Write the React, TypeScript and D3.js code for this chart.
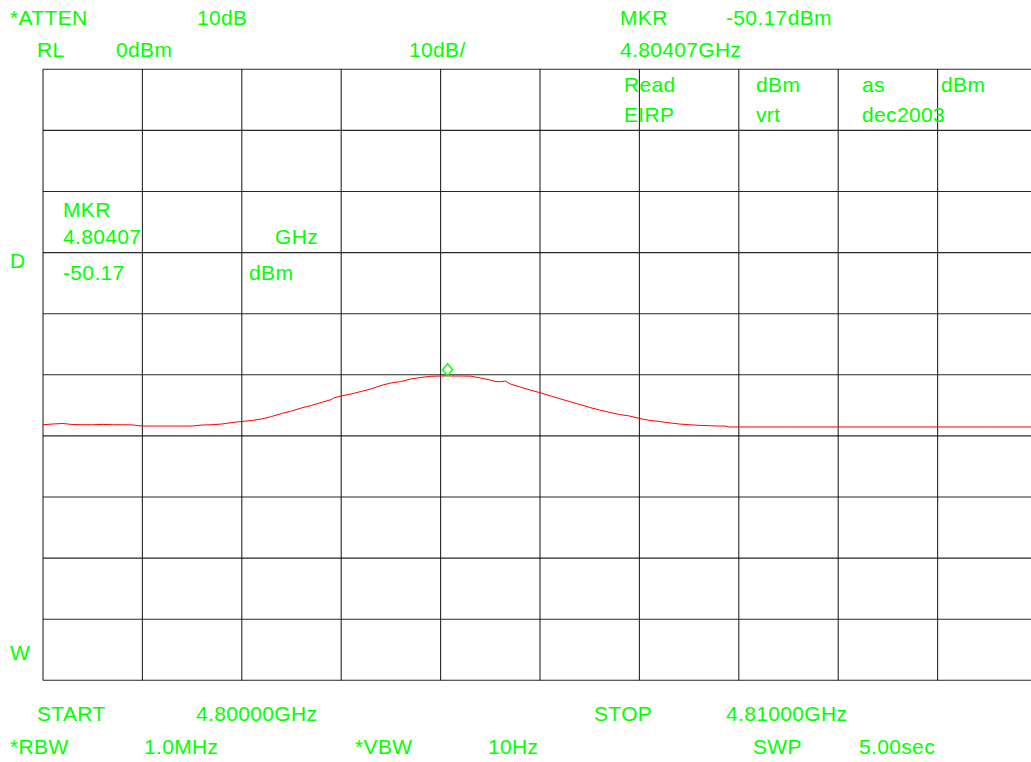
import React from "react";
import * as d3 from "d3";

// Sweep settings
const startGHz = 4.8;
const stopGHz = 4.81;
const refLevel = 0; // dBm
const dbPerDiv = 10;
const markerGHz = 4.80407;
const markerDbm = -50.17;

const traceMHz = [
  4800.0, 4800.1, 4800.2, 4800.3, 4800.4, 4800.5, 4800.6, 4800.7, 4800.8, 4800.9,
  4800.95, 4801.0, 4801.1, 4801.2, 4801.3, 4801.4, 4801.5, 4801.6, 4801.7, 4801.8, 4801.9,
  4802.0, 4802.1, 4802.2, 4802.3, 4802.4, 4802.5, 4802.6, 4802.7, 4802.8, 4802.9,
  4802.93, 4803.0, 4803.1, 4803.2, 4803.3, 4803.4, 4803.5, 4803.6, 4803.7, 4803.8, 4803.9,
  4804.0, 4804.07, 4804.1, 4804.2, 4804.3, 4804.4, 4804.5, 4804.55, 4804.6, 4804.65, 4804.7, 4804.8, 4804.9,
  4805.0, 4805.1, 4805.2, 4805.3, 4805.4, 4805.5, 4805.6, 4805.7, 4805.8, 4805.9,
  4806.0, 4806.1, 4806.2, 4806.3, 4806.4, 4806.5, 4806.6, 4806.7, 4806.8, 4806.87, 4806.9,
  4807.5, 4808.0, 4808.5, 4809.0, 4809.5, 4810.0,
];
const traceDbm = [
  -58.17, -58.05, -57.97, -58.14, -58.17, -58.17, -58.12, -58.17, -58.17, -58.2,
  -58.3, -58.38, -58.38, -58.38, -58.38, -58.38, -58.38, -58.22, -58.17, -58.05, -57.81,
  -57.64, -57.48, -57.23, -56.83, -56.33, -55.93, -55.43, -55.02, -54.53, -54.05,
  -53.75, -53.47, -53.14, -52.73, -52.32, -51.75, -51.34, -51.1, -50.69, -50.44, -50.25,
  -50.2, -50.17, -50.2, -50.2, -50.22, -50.52, -50.85, -51.1, -51.13, -51.02, -51.5, -52.0, -52.49,
  -52.93, -53.42, -53.91, -54.4, -54.86, -55.35, -55.76, -56.14, -56.5, -56.74,
  -57.15, -57.45, -57.64, -57.86, -58.05, -58.17, -58.27, -58.33, -58.38, -58.4, -58.54,
  -58.54, -58.54, -58.54, -58.54, -58.54, -58.54,
];

// Annotation texts
const headerTexts = [
  { t: "*ATTEN", x: 10, y: 25 },
  { t: "10dB", x: 197, y: 25 },
  { t: "MKR", x: 620, y: 25 },
  { t: "-50.17dBm", x: 726, y: 25 },
  { t: "RL", x: 37, y: 57 },
  { t: "0dBm", x: 116, y: 57 },
  { t: "10dB/", x: 409, y: 57 },
  { t: "4.80407GHz", x: 620, y: 57 },
];
const titleTexts = [
  { t: "Read", x: 624, y: 92 },
  { t: "dBm", x: 756, y: 92 },
  { t: "as", x: 862, y: 92 },
  { t: "dBm", x: 941, y: 92 },
  { t: "EIRP", x: 624, y: 122 },
  { t: "vrt", x: 756, y: 122 },
  { t: "dec2003", x: 862, y: 122 },
  { t: "MKR", x: 63, y: 217 },
  { t: "4.80407", x: 63, y: 244 },
  { t: "GHz", x: 275, y: 244 },
  { t: "-50.17", x: 63, y: 280 },
  { t: "dBm", x: 249, y: 280 },
  { t: "D", x: 10, y: 268 },
  { t: "W", x: 10, y: 660 },
];
const footerTexts = [
  { t: "START", x: 37, y: 721 },
  { t: "4.80000GHz", x: 196, y: 721 },
  { t: "STOP", x: 594, y: 721 },
  { t: "4.81000GHz", x: 726, y: 721 },
  { t: "*RBW", x: 10, y: 754 },
  { t: "1.0MHz", x: 144, y: 754 },
  { t: "*VBW", x: 355, y: 754 },
  { t: "10Hz", x: 488, y: 754 },
  { t: "SWP", x: 753, y: 754 },
  { t: "5.00sec", x: 859, y: 754 },
];

const W = 1031;
const H = 762;
const plot = { left: 43, right: 1037, top: 69.3, bottom: 680.3 };
const GREEN = "#00ff00";

export default function App() {
  const x = d3.scaleLinear().domain([startGHz, stopGHz]).range([plot.left, plot.right]);
  const y = d3
    .scaleLinear()
    .domain([refLevel, refLevel - dbPerDiv * 10])
    .range([plot.top, plot.bottom]);

  const xTicks = d3.range(0, 11).map((i) => startGHz + (i * (stopGHz - startGHz)) / 10);
  const yTicks = d3.range(0, 11).map((i) => refLevel - i * dbPerDiv);

  const line = d3
    .line<number>()
    .x((_, i) => x(traceMHz[i] / 1000))
    .y((d) => y(d));

  const mx = x(markerGHz);
  const my = y(markerDbm);

  const allTexts = [...headerTexts, ...titleTexts, ...footerTexts];

  return (
    <svg
      width={W}
      height={H}
      style={{ position: "absolute", left: 0, top: 0, background: "#fff" }}
    >
      <rect x={0} y={0} width={W} height={H} fill="#fff" />
      <g stroke="#000" strokeWidth={1.1} strokeOpacity={0.85}>
        {xTicks.map((t, i) => (
          <line key={"vx" + i} x1={x(t)} x2={x(t)} y1={plot.top} y2={plot.bottom} />
        ))}
        {yTicks.map((t, i) => (
          <line key={"hy" + i} x1={plot.left} x2={plot.right} y1={y(t)} y2={y(t)} />
        ))}
      </g>
      <path d={line(traceDbm) || ""} fill="none" stroke="#ff0000" strokeWidth={1} />
      <path
        d={`M${mx},${my - 12} L${mx + 5},${my - 6} L${mx},${my} L${mx - 5},${my - 6} Z`}
        fill="none"
        stroke={GREEN}
        strokeWidth={1.5}
      />
      <g
        fill={GREEN}
        fontFamily="'Liberation Sans', Arial, sans-serif"
        fontSize={21}
        letterSpacing={0.35}
      >
        {allTexts.map((d, i) => (
          <text key={i} x={d.x} y={d.y}>
            {d.t}
          </text>
        ))}
      </g>
    </svg>
  );
}
